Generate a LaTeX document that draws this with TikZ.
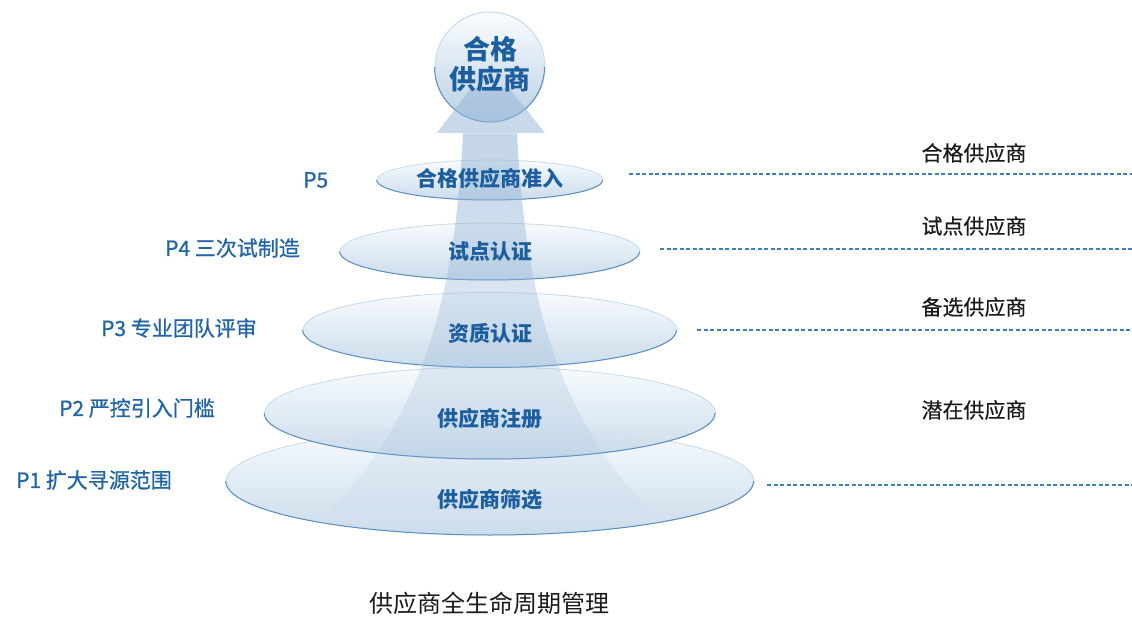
\documentclass[tikz,border=0pt]{standalone}
\usepackage{fontspec}
\setmainfont{Noto Sans CJK SC}
\newfontfamily\medfont{Noto Sans CJK SC}[FakeBold=0.8]
\newfontfamily\semifont{Noto Sans CJK SC}[FakeBold=0.4]
\usetikzlibrary{shapes.geometric,fadings}
\tikzfading[name=shaftfade, top color=transparent!0, bottom color=transparent!88]
\definecolor{tblue}{HTML}{1C5E9E}
\definecolor{lblue}{HTML}{2064A6}
\definecolor{dashblue}{HTML}{3D7FBF}
\definecolor{edark}{HTML}{5A8FC2}
\definecolor{elight}{HTML}{C8DAEA}
\definecolor{etop}{HTML}{F7FAFD}
\definecolor{ebot}{HTML}{C6D9EA}
\definecolor{arrowc}{HTML}{9AB9D8}
\definecolor{ctop}{HTML}{FBFDFF}
\definecolor{cbot}{HTML}{B9D0E5}
\definecolor{capc}{HTML}{1A1A1A}
\tikzset{
  layer/.style={ellipse, inner sep=0pt, draw=elight, line width=0.8pt,
    top color=etop, bottom color=ebot, fill opacity=0.92},
  layerlabel/.style={font=\bfseries\fontsize{21}{24}\selectfont, text=tblue, inner sep=0pt},
  steplabel/.style={font=\medfont\fontsize{21}{24}\selectfont, text=lblue, inner sep=0pt, anchor=west},
  rightlabel/.style={font=\semifont\fontsize{21}{24}\selectfont, text=capc, inner sep=0pt},
  guide/.style={draw=dashblue, line width=1.2pt, dash pattern=on 4pt off 2.5pt},
  darkrim/.style={draw=edark, line width=1pt},
}
\begin{document}
\begin{tikzpicture}[x=1pt,y=-1pt]
\useasboundingbox (0,0) rectangle (1132,617);

% layers, bottom first
\node[layer, minimum width=528pt, minimum height=108pt] (e1) at (490,481) {};
\draw[darkrim] (e1.west) arc[start angle=180, end angle=360, x radius=264pt, y radius=54pt];
\node[layer, minimum width=451pt, minimum height=92pt] (e2) at (490,413) {};
\draw[darkrim] (e2.west) arc[start angle=180, end angle=360, x radius=225.5pt, y radius=46pt];
\node[layer, minimum width=374pt, minimum height=75pt] (e3) at (490,330) {};
\draw[darkrim] (e3.west) arc[start angle=180, end angle=360, x radius=187pt, y radius=37.5pt];
\node[layer, minimum width=300pt, minimum height=57pt] (e4) at (490,251.5) {};
\draw[darkrim] (e4.west) arc[start angle=180, end angle=360, x radius=150pt, y radius=28.5pt];
\node[layer, minimum width=226pt, minimum height=40pt] (e5) at (490,180) {};
\draw[darkrim] (e5.west) arc[start angle=180, end angle=360, x radius=113pt, y radius=20pt];

% arrow shaft
\fill[arrowc, fill opacity=0.6, path fading=shaftfade]
  (463,133) .. controls (455,300) and (420,420) .. (330,510)
  -- (650,510) .. controls (560,420) and (525,300) .. (517,133) -- cycle;

% top circle
\node[circle, minimum size=110pt, inner sep=0pt, draw=elight, line width=1pt,
      top color=ctop, bottom color=cbot] (c) at (490,67) {};
\draw[darkrim] (c.west) arc[start angle=180, end angle=360, radius=55pt];

% arrow head
\fill[arrowc, fill opacity=0.55] (437,133) -- (471,88) -- (509,88) -- (545,133) -- cycle;

% texts
\node[font=\bfseries\fontsize{27}{30}\selectfont, text=tblue, align=center, inner sep=0pt] (ct) at (490,64) {合格\\供应商};
\node[layerlabel] (t5) at (490,178) {合格供应商准入};
\node[layerlabel] (t4) at (490,252) {试点认证};
\node[layerlabel] (t3) at (490,333) {资质认证};
\node[layerlabel] (t2) at (490,418) {供应商注册};
\node[layerlabel] (t1) at (490,500) {供应商筛选};

\node[steplabel] (p5) at (303,180) {P5};
\node[steplabel] (p4) at (165,248) {P4 三次试制造};
\node[steplabel] (p3) at (101,328) {P3 专业团队评审};
\node[steplabel] (p2) at (59,408) {P2 严控引入门槛};
\node[steplabel] (p1) at (16,480) {P1 扩大寻源范围};

\node[rightlabel] (r5) at (974,153) {合格供应商};
\node[rightlabel] (r4) at (974,226) {试点供应商};
\node[rightlabel] (r3) at (974,307) {备选供应商};
\node[rightlabel] (r2) at (974,410) {潜在供应商};

\coordinate (d5a) at (629,174);  \coordinate (d5b) at (1132,174);
\coordinate (d4a) at (660,249);  \coordinate (d4b) at (1132,249);
\coordinate (d3a) at (697,330);  \coordinate (d3b) at (1132,330);
\coordinate (d1a) at (767,485);  \coordinate (d1b) at (1132,485);
\draw[guide] (d5a) -- (d5b);
\draw[guide] (d4a) -- (d4b);
\draw[guide] (d3a) -- (d3b);
\draw[guide] (d1a) -- (d1b);

\node[font=\fontsize{24}{28}\selectfont, text=capc, inner sep=0pt] (cap) at (489,603) {供应商全生命周期管理};
\end{tikzpicture}
\end{document}
